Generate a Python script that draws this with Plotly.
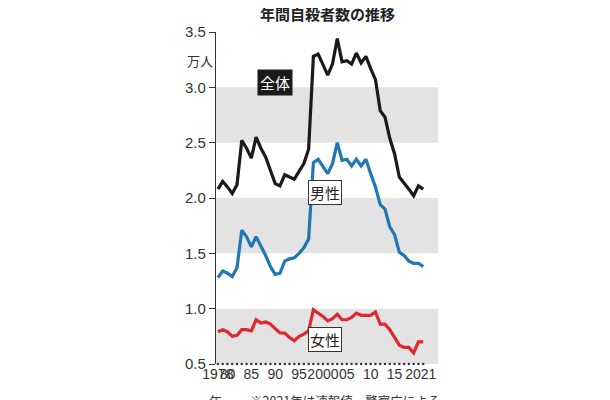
import plotly.graph_objects as go

years = list(range(1978, 2022))
total = [2.08, 2.15, 2.10, 2.04, 2.12, 2.52, 2.45, 2.36, 2.55, 2.45, 2.37, 2.25, 2.13, 2.11, 2.21, 2.19, 2.17, 2.24,
         2.31, 2.44, 3.28, 3.30, 3.20, 3.11, 3.21, 3.44, 3.23, 3.24, 3.21, 3.31, 3.22, 3.28, 3.17, 3.07, 2.79, 2.73,
         2.54, 2.40, 2.19, 2.14, 2.08, 2.02, 2.11, 2.08]
male = [1.28, 1.34, 1.32, 1.29, 1.37, 1.71, 1.65, 1.56, 1.65, 1.57, 1.48, 1.38, 1.31, 1.32, 1.43, 1.45, 1.46, 1.50,
        1.55, 1.63, 2.32, 2.35, 2.29, 2.22, 2.31, 2.50, 2.34, 2.35, 2.29, 2.35, 2.29, 2.35, 2.22, 2.10, 1.94, 1.90,
        1.74, 1.67, 1.51, 1.48, 1.43, 1.41, 1.41, 1.38]
female = [0.79, 0.81, 0.79, 0.75, 0.76, 0.81, 0.81, 0.80, 0.90, 0.87, 0.88, 0.86, 0.82, 0.78, 0.78, 0.74, 0.71, 0.75,
          0.77, 0.80, 0.99, 0.96, 0.93, 0.89, 0.91, 0.95, 0.90, 0.90, 0.92, 0.96, 0.94, 0.94, 0.94, 0.97, 0.86, 0.86,
          0.81, 0.74, 0.67, 0.65, 0.65, 0.60, 0.70, 0.70]
tick_years = [1978, 1980, 1985, 1990, 1995, 2000, 2005, 2010, 2015, 2020.5]
tick_text = ["1978", "80", "85", "90", "95", "2000", "05", "10", "15", "2021"]
y_ticks = [0.5, 1.0, 1.5, 2.0, 2.5, 3.0, 3.5]
bands = [(0.5, 1.0), (1.5, 2.0), (2.5, 3.0)]

FONT = "Noto Sans CJK JP"
NARROW = "Liberation Sans Narrow, Liberation Sans"
fig = go.Figure()

for lo, hi in bands:
    fig.add_hrect(y0=lo, y1=hi, fillcolor="#e3e3e3", line_width=0, layer="below")

for ys, color in [(total, "#1a1a1a"), (male, "#1f78b4"), (female, "#e0262f")]:
    fig.add_trace(go.Scatter(x=years, y=ys, mode="lines", line=dict(color=color, width=3.2),
                             showlegend=False, hoverinfo="skip"))

# dotted year ticks along the bottom
fig.add_trace(go.Scatter(x=years, y=[0.5] * len(years), mode="markers", cliponaxis=False,
                         marker=dict(size=2.5, color="#333"), showlegend=False, hoverinfo="skip"))

fig.update_layout(
    width=610, height=400,
    paper_bgcolor="white", plot_bgcolor="white",
    margin=dict(l=208, r=180, t=24, b=44),
    font=dict(family=FONT, color="#333"),
)
fig.update_xaxes(range=[1977.6, 2024.1], tickvals=tick_years, ticktext=tick_text, showgrid=False,
                 zeroline=False, showline=False, ticks="", tickangle=0, automargin=False,
                 tickfont=dict(size=14, family=NARROW, color="#333"))
fig.update_yaxes(range=[0.5, 3.5], tickvals=y_ticks, ticktext=["0.5", "1.0", "1.5", "2.0", "2.5", "3.0", "3.5"],
                 showgrid=False, zeroline=False, showline=True, linecolor="#333", linewidth=1.2,
                 ticks="outside", ticklen=6, tickcolor="#333", tickfont=dict(size=15, family=NARROW))

fig.add_annotation(text="<b>年間自殺者数の推移</b>", xref="paper", yref="paper", x=0.5, y=1.0, yshift=6,
                   yanchor="bottom", showarrow=False, font=dict(size=15, color="#222"))
fig.add_annotation(text="万人", xref="paper", yref="paper", x=-0.005, y=0.95, xanchor="right",
                   showarrow=False, font=dict(size=13, color="#333"))
fig.add_annotation(text="年", xref="paper", yref="paper", x=-0.04, y=-0.075, xanchor="left", yanchor="top",
                   showarrow=False, font=dict(size=13, color="#333"))
fig.add_annotation(text="※2021年は速報値、警察庁による", xref="paper", yref="paper", x=1.02, y=-0.075,
                   xanchor="right", yanchor="top", showarrow=False, font=dict(size=12.5, color="#333"))
fig.add_annotation(text="全体", x=1990, y=3.04, showarrow=False, bgcolor="#1a1a1a",
                   font=dict(size=15, color="white"), borderpad=2)
fig.add_annotation(text="男性", x=2000.5, y=2.05, showarrow=False, bgcolor="white", bordercolor="#333",
                   borderwidth=1, font=dict(size=15, color="#222"), borderpad=1)
fig.add_annotation(text="女性", x=2000.5, y=0.72, showarrow=False, bgcolor="white", bordercolor="#333",
                   borderwidth=1, font=dict(size=15, color="#222"), borderpad=1)

fig.write_html("out.html")
